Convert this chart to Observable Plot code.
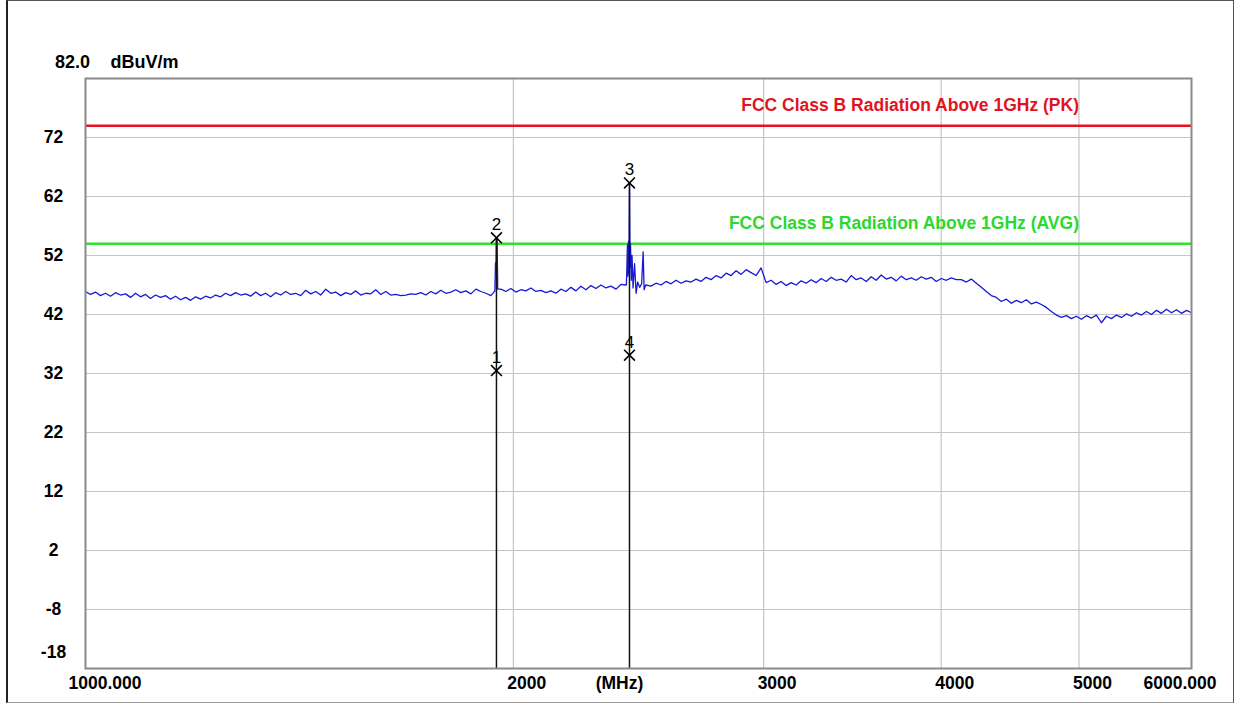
<!DOCTYPE html>
<html>
<head>
<meta charset="utf-8">
<script src="https://cdn.jsdelivr.net/npm/d3@7"></script>
<script src="https://cdn.jsdelivr.net/npm/@observablehq/plot@0.6"></script>
<style>
  body { margin: 0; background: #fff; }
  #wrap { position: relative; width: 1242px; height: 704px; overflow: hidden; }
  #border { position: absolute; left: 6px; top: 0; width: 1228px; height: 703px; box-sizing: border-box;
            border-left: 2px solid #222; border-top: 1px solid #555; border-right: 1px solid #555; border-bottom: 1px solid #999;
            pointer-events: none; }
</style>
</head>
<body>
<div id="wrap"><div id="border"></div></div>
<script>
// ---- data ----
const sweepStart = 1000;   // MHz
const sweepStop = 6000;    // MHz
// trace levels (dBuV/m) on the sweep grid
const levels = [
  45.9,45.4,45.8,45.2,45.6,45.1,45.7,45.3,45.5,44.9,
  45.6,45.0,45.4,44.7,45.3,44.9,45.2,44.6,45.1,44.5,
  44.9,44.4,45.0,44.6,45.1,44.8,45.3,45.0,45.6,45.2,
  45.7,45.3,45.5,45.1,45.8,45.2,45.6,45.0,45.7,45.3,
  45.9,45.4,45.6,45.2,46.1,45.5,45.9,45.3,46.3,45.6,
  45.8,45.2,45.7,45.4,46.0,45.3,45.6,45.5,46.2,45.4,
  45.9,45.3,45.4,45.2,45.3,45.5,45.4,45.7,45.3,45.9,
  45.5,46.1,45.6,45.8,46.2,45.7,46.0,45.5,46.3,45.9,
  45.6,45.2,45.8,46.3,45.9,46.4,45.8,46.2,46.0,46.5,
  45.9,46.1,45.7,46.0,45.6,46.3,45.9,46.6,46.0,46.8,
  46.2,46.9,46.4,47.0,46.5,46.8,46.3,47.1,46.7,47.5,
  48.3,46.9,47.4,46.8,47.3,47.0,47.6,47.2,47.8,47.3,
  47.7,47.5,48.0,47.6,48.3,47.9,48.6,48.2,49.0,48.6,
  49.4,48.8,49.6,49.1,48.6,49.9,47.4,47.8,47.1,47.6,
  46.9,47.4,47.0,47.7,47.3,47.9,47.4,48.1,47.6,48.3,
  47.8,48.0,47.5,48.6,47.9,48.2,47.6,48.4,47.8,48.7,
  48.0,48.3,47.7,48.5,47.9,48.2,47.8,48.4,48.0,48.3,
  47.6,48.1,47.8,48.2,47.9,47.9,47.5,48.0,47.3,46.6,
  45.9,45.2,44.9,44.2,44.6,43.9,44.4,44.0,44.5,43.8,
  44.1,43.7,43.2,42.5,41.9,41.5,41.8,41.3,41.7,41.2,
  41.8,41.4,41.9,40.6,41.7,41.3,41.9,41.5,42.1,41.7,
  42.3,41.9,42.5,42.0,42.7,42.2,42.9,42.3,42.8,42.2,
  42.7,42.3
];
// narrow emissions around the two markers
const spikeFreqs  = [1941,1943,1945,1946,1948,1950, 2402,2406,2408,2410,2412,2414,2416,2418,2421,2424,2428,2434,2440,2446,2454,2462,2468,2472,2478];
const spikeLevels = [46.0,50.8,50.8,55.0,55.0,46.3, 47.0,53.8,48.5,54.4,49.0,64.3,50.0,54.0,47.8,52.0,46.5,50.6,45.6,47.5,46.6,47.2,52.6,46.2,47.0];
const spikeBands = [[1938,1953],[2399,2481]];

// markers
const markerNo    = [1, 2, 3, 4];
const markerFreq  = [1946, 1946, 2414, 2414];
const markerLevel = [32.5, 55.0, 64.3, 35.1];

// limits
const pkLimit = 74, avgLimit = 54;
const pkLabel = "FCC Class B Radiation Above 1GHz (PK)";
const avgLabel = "FCC Class B Radiation Above 1GHz (AVG)";
const labelFreq = 5000;

// axes
const yDomain = [-18, 82];
const yTicks = [-8, 2, 12, 22, 32, 42, 52, 62, 72];
const yBottomTick = [-18];
const yGrid = [-8, 2, 12, 22, 32, 42, 52, 62, 72];
const xGrid = [2000, 3000, 4000, 5000];
const xTickFreqs = [1000, 2000, 3000, 4000, 5000, 6000];
const xTickLabels = ["1000.000", "2000", "3000", "4000", "5000", "6000.000"];
const yTopLabel = "82.0";
const yUnit = "dBuV/m";
const xUnit = "(MHz)";

// ---- build tables ----
const n = levels.length;
const grid = levels.map((v, i) => ({ f: sweepStart * Math.pow(sweepStop / sweepStart, i / (n - 1)), v }))
  .filter(d => !spikeBands.some(([a, b]) => d.f >= a && d.f <= b));
const spikes = spikeFreqs.map((f, i) => ({ f, v: spikeLevels[i] }));
const trace = grid.concat(spikes).sort((a, b) => a.f - b.f);

const markers = markerNo.map((k, i) => ({ n: k, f: markerFreq[i], v: markerLevel[i] }));
const peaks = Array.from(d3.rollup(markers, g => d3.max(g, d => d.v), d => d.f), ([f, top]) => ({ f, top }));

const ticks = xTickFreqs.map((f, i) => ({ f, label: xTickLabels[i] }));
const firstTick = ticks.slice(0, 1), midTicks = ticks.slice(1, -1), lastTick = ticks.slice(-1);

const bold = { fontWeight: "bold", fontSize: 17.5, fill: "#000" };
const fmt = d => String(d);

const chart = Plot.plot({
  width: 1242,
  height: 704,
  marginLeft: 85,
  marginRight: 51,
  marginTop: 78,
  marginBottom: 36,
  style: { fontFamily: "'Liberation Sans', Arial, sans-serif", background: "transparent", overflow: "visible" },
  x: { type: "log", domain: [sweepStart, sweepStop], axis: null },
  y: { domain: yDomain },
  marks: [
    Plot.gridX(xGrid, { stroke: "#c4c4c4", strokeOpacity: 1, strokeWidth: 1.2 }),
    Plot.gridY(yGrid, { stroke: "#c4c4c4", strokeOpacity: 1, strokeWidth: 1.2 }),
    Plot.ruleY([pkLimit], { stroke: "#e8121e", strokeWidth: 2.5 }),
    Plot.ruleY([avgLimit], { stroke: "#2ee22e", strokeWidth: 2.5 }),
    Plot.text([pkLabel], { x: labelFreq, y: pkLimit, text: d => d, textAnchor: "end", dy: -20, ...bold, fill: "#e0141e" }),
    Plot.text([avgLabel], { x: labelFreq, y: avgLimit, text: d => d, textAnchor: "end", dy: -20, ...bold, fill: "#2cd82c" }),
    Plot.line(trace, { x: "f", y: "v", stroke: "#1818d8", strokeWidth: 1.3 }),
    Plot.ruleX(peaks, { x: "f", y1: () => yDomain[0], y2: "top", stroke: "#111", strokeWidth: 1.5 }),
    Plot.dot(markers, { x: "f", y: "v", symbol: "times", r: 5, stroke: "#000", strokeWidth: 1.6 }),
    Plot.text(markers, { x: "f", y: "v", text: d => String(d.n), dy: -13, fontSize: 17, fill: "#000" }),
    Plot.frame({ stroke: "#8a8a8a", strokeWidth: 2 }),
    Plot.axisY(yTicks, { anchor: "left", tickSize: 0, tickPadding: 32, textAnchor: "middle", tickFormat: fmt, label: null, ...bold }),
    Plot.axisY(yBottomTick, { anchor: "left", tickSize: 0, tickPadding: 32, textAnchor: "middle", tickFormat: fmt, label: null, dy: -16, ...bold }),
    Plot.text(firstTick, { x: "f", text: "label", frameAnchor: "bottom", textAnchor: "start", lineAnchor: "middle", dx: -17, dy: 15, ...bold }),
    Plot.text(midTicks, { x: "f", text: "label", frameAnchor: "bottom", textAnchor: "start", lineAnchor: "middle", dx: -6, dy: 15, ...bold }),
    Plot.text(lastTick, { x: "f", text: "label", frameAnchor: "bottom", textAnchor: "start", lineAnchor: "middle", dx: -48, dy: 15, ...bold }),
    Plot.text([xUnit], { text: d => d, frameAnchor: "bottom", lineAnchor: "middle", dx: -19, dy: 15, ...bold }),
    Plot.text([yTopLabel], { text: d => d, frameAnchor: "top-left", textAnchor: "middle", lineAnchor: "middle", dx: -13, dy: -16, ...bold, fontSize: 18 }),
    Plot.text([yUnit], { text: d => d, frameAnchor: "top-left", textAnchor: "start", lineAnchor: "middle", dx: 25, dy: -16, ...bold, fontSize: 18 })
  ]
});
chart.style.position = "absolute";
chart.style.left = "0";
chart.style.top = "0";
document.getElementById("wrap").appendChild(chart);
</script>
</body>
</html>
